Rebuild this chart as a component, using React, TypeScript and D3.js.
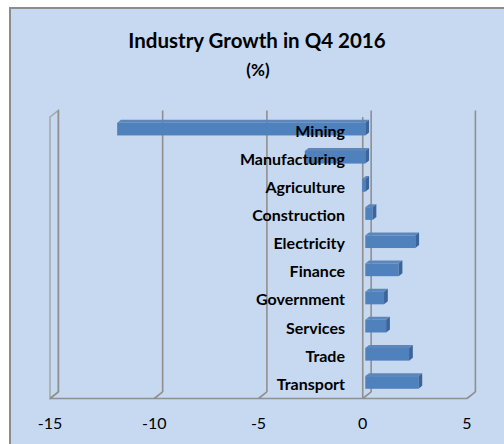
import React from "react";
import * as d3 from "d3";

const categories = ["Mining", "Manufacturing", "Agriculture", "Construction", "Electricity", "Finance", "Government", "Services", "Trade", "Transport"];
const values = [-11.9, -2.9, -0.15, 0.35, 2.4, 1.6, 0.9, 1.0, 2.1, 2.55];
const ticks = [-15, -10, -5, 0, 5];
const titleText = "Industry Growth in Q4 2016";
const subtitleText = "(%)";

const W = 504;
const H = 444;
const DX = 8.4;
const DY = -6.6;
const TOP = 117;
const BOTTOM = 398.5;
const D0 = 0.3;
const D1 = 0.75;

export default function App() {
  const x = d3.scaleLinear().domain([-15, 5]).range([50, 467]);
  const y = d3.scaleBand<string>().domain(categories).range([TOP, BOTTOM]).paddingInner(0.55).paddingOuter(0.275);
  const font = "Lato, 'Open Sans', sans-serif";
  const grid = "#8f8f8f";
  const bars = categories.map((c, i) => {
    const v = values[i];
    const x1 = Math.min(x(0), x(v)) + DX * D0;
    const x2 = Math.max(x(0), x(v)) + DX * D0;
    const yT = (y(c) as number) + DY * D0;
    const yB = yT + y.bandwidth();
    const ddx = DX * (D1 - D0);
    const ddy = DY * (D1 - D0);
    return { c, x1, x2, yT, yB, ddx, ddy };
  });
  return (
    <svg width={W} height={H} style={{ position: "absolute", left: 0, top: 0 }}>
      <rect x={10} y={8} width={520} height={460} fill="#c6d9f0" stroke="#8c8c8c" strokeWidth={2} />
      <text x={257} y={48} textAnchor="middle" fontFamily={font} fontWeight="bold" fontSize={20.5} fill="#000">{titleText}</text>
      <text x={258} y={76} textAnchor="middle" fontFamily={font} fontWeight="bold" fontSize={17} fill="#000">{subtitleText}</text>
      {/* left wall */}
      <path d={`M${x(-15)},${TOP}L${x(-15) + DX},${TOP + DY}L${x(-15) + DX},${BOTTOM + DY}L${x(-15)},${BOTTOM}Z`} fill="#c6d9f0" stroke="#a6a6a6" strokeWidth={1.5} />
      {ticks.map((t) => (
        <g key={t}>
          <line x1={x(t) + DX} x2={x(t) + DX} y1={TOP + DY} y2={BOTTOM + DY} stroke={grid} strokeWidth={1.6} />
          <line x1={x(t) + DX} x2={x(t)} y1={BOTTOM + DY} y2={BOTTOM} stroke={grid} strokeWidth={1.6} />
        </g>
      ))}
      <line x1={x(-15)} x2={x(5)} y1={BOTTOM} y2={BOTTOM} stroke={grid} strokeWidth={1.6} />
      <line x1={x(0)} x2={x(0)} y1={TOP} y2={BOTTOM} stroke={grid} strokeWidth={1.6} />
      {bars.map((b) => (
        <g key={b.c}>
          <path d={`M${b.x1},${b.yT}L${b.x2},${b.yT}L${b.x2 + b.ddx},${b.yT + b.ddy}L${b.x1 + b.ddx},${b.yT + b.ddy}Z`} fill="#5f86ba" />
          <rect x={b.x1} y={b.yT} width={b.x2 - b.x1} height={b.yB - b.yT} fill="#4f81bd" />
          <path d={`M${b.x2},${b.yT}L${b.x2 + b.ddx},${b.yT + b.ddy}L${b.x2 + b.ddx},${b.yB + b.ddy}L${b.x2},${b.yB}Z`} fill="#3b649a" />
        </g>
      ))}
      {categories.map((c) => (
        <text key={c} x={345} y={(y(c) as number) + y.bandwidth() / 2 + 5.5} textAnchor="end" fontFamily={font} fontWeight="bold" fontSize={16} fill="#000">{c}</text>
      ))}
      {ticks.map((t) => (
        <text key={t} x={x(t)} y={429} textAnchor="middle" fontFamily={font} fontSize={16} fill="#000">{t}</text>
      ))}
    </svg>
  );
}
